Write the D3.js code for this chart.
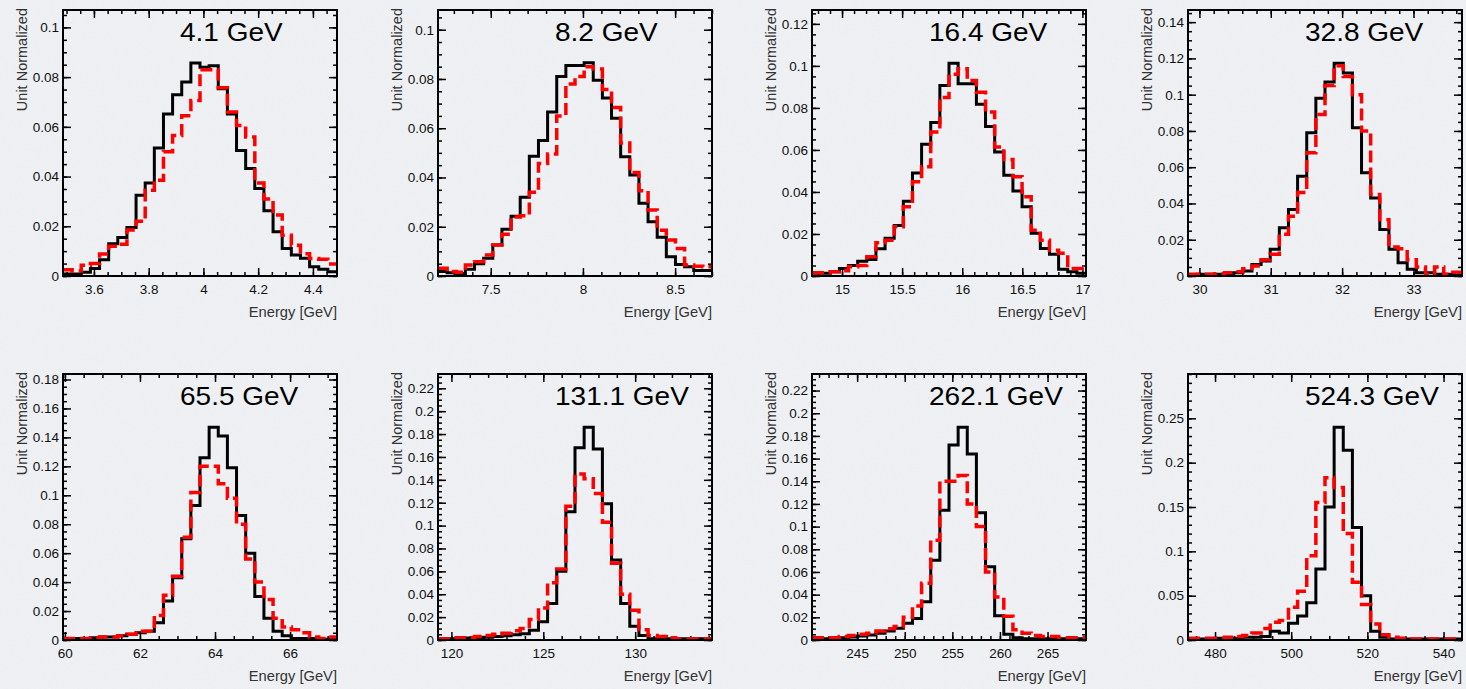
<!DOCTYPE html>
<html>
<head>
<meta charset="utf-8">
<script src="https://cdn.jsdelivr.net/npm/d3@7"></script>
<style>
  body { margin: 0; background: #eceef1; }
  svg { display: block; }
  text { font-family: "Liberation Sans", Arial, Helvetica, sans-serif; }
</style>
</head>
<body>
<script>
// Panel titles (beam energy)
const titles = ["4.1 GeV", "8.2 GeV", "16.4 GeV", "32.8 GeV", "65.5 GeV", "131.1 GeV", "262.1 GeV", "524.3 GeV"];

// Histogram ranges [low, high] in GeV, 30 bins each
const xDomains = [[3.487, 4.488], [7.214, 8.70], [14.75, 17.03], [29.84, 33.68],
                  [59.95, 67.25], [119.27, 134.18], [240.26, 269.04], [472.9, 544.85]];
const yMaxes = [0.107, 0.108, 0.1266, 0.1467, 0.1838, 0.2325, 0.2346, 0.3];

// Tick labels
const xTicks = [[3.6, 3.8, 4, 4.2, 4.4], [7.5, 8, 8.5], [15, 15.5, 16, 16.5, 17], [30, 31, 32, 33],
                [60, 62, 64, 66], [120, 125, 130], [245, 250, 255, 260, 265], [480, 500, 520, 540]];
const yTicks = [[0, 0.02, 0.04, 0.06, 0.08, 0.1], [0, 0.02, 0.04, 0.06, 0.08, 0.1],
                [0, 0.02, 0.04, 0.06, 0.08, 0.1, 0.12], [0, 0.02, 0.04, 0.06, 0.08, 0.1, 0.12, 0.14],
                [0, 0.02, 0.04, 0.06, 0.08, 0.1, 0.12, 0.14, 0.16, 0.18],
                [0, 0.02, 0.04, 0.06, 0.08, 0.1, 0.12, 0.14, 0.16, 0.18, 0.2, 0.22],
                [0, 0.02, 0.04, 0.06, 0.08, 0.1, 0.12, 0.14, 0.16, 0.18, 0.2, 0.22],
                [0, 0.05, 0.1, 0.15, 0.2, 0.25]];
const xMinorDiv = [4, 5, 5, 5, 4, 5, 5, 4];
const yMinorDiv = [4, 4, 4, 4, 4, 4, 4, 5];

// Black solid histograms (bin contents, unit normalized)
const blackHists = [
  [0.0008, 0.0008, 0.0015, 0.003, 0.0065, 0.013, 0.0155, 0.0195, 0.0325, 0.0374, 0.0515, 0.0652, 0.0729, 0.078, 0.0857,
   0.084, 0.0846, 0.0753, 0.0652, 0.0505, 0.0432, 0.0352, 0.0262, 0.0178, 0.0111, 0.0084, 0.0071, 0.0037, 0.0027, 0.0017],
  [0.0018, 0.0013, 0.001, 0.0027, 0.005, 0.0072, 0.0126, 0.019, 0.0243, 0.032, 0.0486, 0.055, 0.0666, 0.081, 0.0855,
   0.0855, 0.0866, 0.0795, 0.0723, 0.064, 0.0484, 0.041, 0.0295, 0.022, 0.0157, 0.0078, 0.0047, 0.0038, 0.0022, 0.0022],
  [0.0013, 0.0013, 0.002, 0.0036, 0.005, 0.007, 0.0079, 0.013, 0.018, 0.024, 0.0356, 0.049, 0.0627, 0.073, 0.0907,
   0.1013, 0.0915, 0.0915, 0.0817, 0.0712, 0.059, 0.048, 0.0404, 0.033, 0.0203, 0.0131, 0.0104, 0.0032, 0.002, 0.0013],
  [0.0005, 0.001, 0.001, 0.001, 0.0013, 0.0018, 0.0028, 0.0064, 0.0083, 0.0147, 0.0266, 0.0367, 0.055, 0.079, 0.098,
   0.107, 0.1174, 0.112, 0.0817, 0.0569, 0.043, 0.0257, 0.0147, 0.0073, 0.0037, 0.0018, 0.0018, 0.001, 0.001, 0.001],
  [0.0005, 0.001, 0.001, 0.0015, 0.002, 0.002, 0.003, 0.004, 0.005, 0.006, 0.012, 0.027, 0.043, 0.07, 0.093,
   0.126, 0.147, 0.141, 0.119, 0.086, 0.06, 0.03, 0.015, 0.006, 0.003, 0.001, 0.001, 0.001, 0.0005, 0.0005],
  [0.001, 0.001, 0.0015, 0.0018, 0.002, 0.0025, 0.003, 0.0038, 0.0045, 0.0055, 0.0085, 0.016, 0.032, 0.06, 0.112,
   0.168, 0.186, 0.167, 0.119, 0.07, 0.032, 0.012, 0.004, 0.001, 0.001, 0.001, 0.001, 0.001, 0.001, 0.001],
  [0.001, 0.001, 0.0015, 0.002, 0.0026, 0.0035, 0.0044, 0.0059, 0.0079, 0.0103, 0.0147, 0.019, 0.0337, 0.0704, 0.1144,
   0.172, 0.1877, 0.164, 0.1123, 0.0645, 0.0214, 0.005, 0.002, 0.001, 0.001, 0.001, 0.001, 0.001, 0.001, 0.001],
  [0.001, 0.001, 0.001, 0.002, 0.002, 0.002, 0.003, 0.003, 0.004, 0.01, 0.008, 0.019, 0.027, 0.042, 0.08,
   0.15, 0.24, 0.214, 0.127, 0.05, 0.01, 0.003, 0.001, 0.001, 0.001, 0.001, 0.001, 0.001, 0.001, 0.001]
];

// Red dashed histograms
const redHists = [
  [0.0025, 0.002, 0.0043, 0.005, 0.0088, 0.012, 0.0128, 0.0185, 0.022, 0.0345, 0.0385, 0.05, 0.0565, 0.0645, 0.0706,
   0.083, 0.083, 0.0757, 0.066, 0.0605, 0.0559, 0.0374, 0.031, 0.0245, 0.0164, 0.0124, 0.009, 0.007, 0.0067, 0.0048],
  [0.0031, 0.0018, 0.0015, 0.0045, 0.0058, 0.0085, 0.0126, 0.017, 0.024, 0.0245, 0.034, 0.0457, 0.0495, 0.065, 0.078,
   0.081, 0.085, 0.084, 0.0757, 0.0684, 0.054, 0.042, 0.0346, 0.0268, 0.0186, 0.0146, 0.0112, 0.0045, 0.004, 0.0038],
  [0.0016, 0.0016, 0.002, 0.0025, 0.0044, 0.005, 0.0092, 0.0158, 0.017, 0.0234, 0.033, 0.0448, 0.052, 0.0685, 0.085,
   0.096, 0.0986, 0.093, 0.0875, 0.078, 0.0614, 0.0554, 0.0472, 0.0377, 0.0218, 0.017, 0.0123, 0.0108, 0.0036, 0.0036],
  [0.001, 0.001, 0.001, 0.0013, 0.0018, 0.0024, 0.004, 0.0055, 0.009, 0.012, 0.023, 0.033, 0.046, 0.068, 0.089,
   0.105, 0.116, 0.11, 0.1, 0.08, 0.045, 0.031, 0.016, 0.015, 0.009, 0.005, 0.001, 0.005, 0.001, 0.002],
  [0.001, 0.001, 0.001, 0.0015, 0.002, 0.002, 0.003, 0.004, 0.006, 0.006, 0.017, 0.031, 0.044, 0.071, 0.102,
   0.12, 0.12, 0.108, 0.098, 0.08, 0.056, 0.04, 0.028, 0.015, 0.009, 0.007, 0.005, 0.002, 0.001, 0.002],
  [0.001, 0.001, 0.002, 0.002, 0.003, 0.004, 0.005, 0.006, 0.008, 0.01, 0.018, 0.028, 0.05, 0.062, 0.117,
   0.145, 0.141, 0.128, 0.103, 0.067, 0.04, 0.026, 0.009, 0.004, 0.003, 0.002, 0.001, 0.001, 0.001, 0.001],
  [0.002, 0.002, 0.002, 0.003, 0.004, 0.005, 0.006, 0.008, 0.01, 0.012, 0.02, 0.03, 0.05, 0.088, 0.14,
   0.14, 0.145, 0.12, 0.1, 0.06, 0.038, 0.021, 0.009, 0.006, 0.004, 0.003, 0.003, 0.002, 0.002, 0.002],
  [0.002, 0.002, 0.002, 0.002, 0.003, 0.004, 0.005, 0.008, 0.013, 0.02, 0.022, 0.037, 0.055, 0.095, 0.155,
   0.183, 0.172, 0.12, 0.065, 0.04, 0.018, 0.006, 0.003, 0.002, 0.001, 0.001, 0.001, 0.001, 0.001, 0.001]
];

// Page layout
const W = 1466, H = 689;
const panelW = 274, panelH = 266;
const colX = [63, 438, 812, 1188];
const rowY = [10, 374];

const svg = d3.select("body")
    .append("svg")
    .attr("width", W)
    .attr("height", H);

// Slide background with a faint paper noise
const noise = svg.append("defs").append("filter")
    .attr("id", "noise")
    .attr("x", 0).attr("y", 0).attr("width", "100%").attr("height", "100%");
noise.append("feTurbulence")
    .attr("type", "fractalNoise")
    .attr("baseFrequency", 0.9)
    .attr("numOctaves", 2)
    .attr("stitchTiles", "stitch");
noise.append("feColorMatrix").attr("type", "saturate").attr("values", 0);

svg.append("rect").attr("width", W).attr("height", H).attr("fill", "#eff1f4");
svg.append("rect").attr("width", W).attr("height", H)
    .attr("filter", "url(#noise)").attr("opacity", 0.05);

const fmt = d3.format("~g");

// minor tick positions covering the whole axis range
function minorTicks(domain, ticks, div) {
    const step = (ticks[1] - ticks[0]) / div;
    const t0 = ticks[0];
    const k0 = Math.ceil((domain[0] - t0) / step - 1e-6);
    const k1 = Math.floor((domain[1] - t0) / step + 1e-6);
    return d3.range(k0, k1 + 1).map((k) => t0 + k * step);
}

function styleAxis(g, labels) {
    g.select(".domain").remove();
    g.selectAll(".tick line").attr("stroke", "#000").attr("stroke-width", 1.5);
    if (labels) {
        g.selectAll(".tick text")
            .attr("fill", "#111")
            .style("font-family", "'Liberation Sans', Arial, sans-serif")
            .style("font-size", "13.5px");
    } else {
        g.selectAll(".tick text").remove();
    }
}

function drawPanel(i) {
    const g = svg.append("g")
        .attr("transform", `translate(${colX[i % 4]},${rowY[Math.floor(i / 4)]})`);

    const x = d3.scaleLinear().domain(xDomains[i]).range([0, panelW]);
    const y = d3.scaleLinear().domain([0, yMaxes[i]]).range([panelH, 0]);

    // bin edges of the 30-bin histogram
    const nBins = blackHists[i].length;
    const [lo, hi] = xDomains[i];
    const edges = d3.range(nBins + 1).map((k) => lo + k * (hi - lo) / nBins);

    const xMinor = minorTicks(xDomains[i], xTicks[i], xMinorDiv[i]);
    const yMinor = minorTicks([0, yMaxes[i]], yTicks[i], yMinorDiv[i]);

    // minor ticks on all four sides
    g.append("g").attr("transform", `translate(0,${panelH})`)
        .call(d3.axisBottom(x).tickValues(xMinor).tickSizeInner(-4).tickSizeOuter(0))
        .call(styleAxis, false);
    g.append("g")
        .call(d3.axisTop(x).tickValues(xMinor).tickSizeInner(-4).tickSizeOuter(0))
        .call(styleAxis, false);
    g.append("g")
        .call(d3.axisLeft(y).tickValues(yMinor).tickSizeInner(-4).tickSizeOuter(0))
        .call(styleAxis, false);
    g.append("g").attr("transform", `translate(${panelW},0)`)
        .call(d3.axisRight(y).tickValues(yMinor).tickSizeInner(-4).tickSizeOuter(0))
        .call(styleAxis, false);

    // major ticks with labels on bottom and left
    g.append("g").attr("transform", `translate(0,${panelH})`)
        .call(d3.axisBottom(x).tickValues(xTicks[i]).tickFormat(fmt)
            .tickSizeInner(-8).tickSizeOuter(0).tickPadding(8))
        .call(styleAxis, true);
    g.append("g")
        .call(d3.axisTop(x).tickValues(xTicks[i]).tickSizeInner(-8).tickSizeOuter(0))
        .call(styleAxis, false);
    g.append("g")
        .call(d3.axisLeft(y).tickValues(yTicks[i]).tickFormat(fmt)
            .tickSizeInner(-8).tickSizeOuter(0).tickPadding(4))
        .call(styleAxis, true);
    g.append("g").attr("transform", `translate(${panelW},0)`)
        .call(d3.axisRight(y).tickValues(yTicks[i]).tickSizeInner(-8).tickSizeOuter(0))
        .call(styleAxis, false);

    // step lines
    const line = d3.line()
        .x((d) => x(d[0]))
        .y((d) => y(d[1]))
        .curve(d3.curveStepAfter);
    const steps = (vals) => vals.map((v, k) => [edges[k], v]).concat([[edges[nBins], vals[nBins - 1]]]);

    g.append("path")
        .datum(steps(blackHists[i]))
        .attr("d", line)
        .attr("fill", "none")
        .attr("stroke", "#000")
        .attr("stroke-width", 3);

    g.append("path")
        .datum(steps(redHists[i]))
        .attr("d", line)
        .attr("fill", "none")
        .attr("stroke", "#ff0000")
        .attr("stroke-width", 3.5)
        .attr("stroke-dasharray", "12,5");

    // frame
    g.append("rect")
        .attr("width", panelW)
        .attr("height", panelH)
        .attr("fill", "none")
        .attr("stroke", "#000")
        .attr("stroke-width", 2);

    // energy label
    g.append("text")
        .attr("transform", "translate(117,31) scale(1.12,1)")
        .attr("fill", "#000")
        .style("font-size", "25px")
        .text(titles[i]);

    // axis titles
    g.append("text")
        .attr("transform", `translate(${panelW},${panelH + 41}) scale(1.05,1)`)
        .attr("text-anchor", "end")
        .attr("fill", "#333")
        .style("font-size", "14px")
        .text("Energy [GeV]");

    g.append("text")
        .attr("transform", "translate(-36,-2) rotate(-90)")
        .attr("text-anchor", "end")
        .attr("fill", "#333")
        .style("font-size", "14.5px")
        .text("Unit Normalized");
}

titles.forEach((t, i) => drawPanel(i));
</script>
</body>
</html>
